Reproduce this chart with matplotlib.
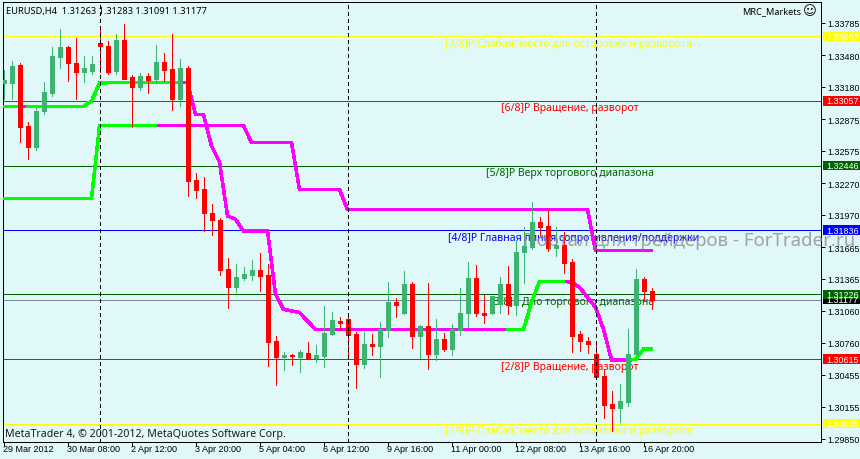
import matplotlib
matplotlib.use("Agg")
import matplotlib.pyplot as plt
from matplotlib.patches import Rectangle
from matplotlib.transforms import blended_transform_factory

# ---------- data ----------
opens = [1.33228,1.33225,1.33395,1.32818,1.32620,1.32960,1.33131,1.33471,1.33566,1.33414,1.33329,1.33339,1.33604,1.33575,1.33339,1.33632,1.33282,1.33187,1.33291,1.33263,1.33424,1.33358,1.33074,1.33367,1.32307,1.32222,1.31995,1.31929,1.31465,1.31295,1.31380,1.31408,1.31456,1.31408,1.30784,1.30632,
         1.30651,1.30632,1.30670,1.30623,1.30642,1.30850,1.30973,1.30992,1.30850,1.30566,1.30755,1.30736,1.30888,1.31153,1.31049,1.31323,1.30831,1.30926,1.30661,1.30803,1.30708,1.30888,1.31049,1.31380,1.31049,1.31049,1.31134,1.31323,1.31124,1.31626,1.31673,1.31910,1.31872,1.31664,1.31692,1.31531,
         1.30850,1.30784,1.30661,1.30453,1.30188,1.30150,1.30207,1.30661,1.31370,1.31263]
highs = [1.33351,1.33433,1.33414,1.32856,1.33004,1.33235,1.33566,1.33736,1.33575,1.33651,1.33481,1.33481,1.33746,1.33623,1.33689,1.33783,1.33301,1.33320,1.33320,1.33585,1.33509,1.33689,1.33452,1.33386,1.32373,1.32336,1.32080,1.31948,1.31569,1.31512,1.31484,1.31550,1.31616,1.31512,1.30831,1.30680,
         1.30661,1.30699,1.30774,1.30746,1.31115,1.31058,1.31011,1.31039,1.30869,1.30869,1.30850,1.30963,1.31342,1.31191,1.31446,1.31342,1.30934,1.31332,1.30992,1.30859,1.30945,1.31285,1.31531,1.31503,1.31219,1.31210,1.31389,1.31493,1.31739,1.31862,1.32099,1.31957,1.32023,1.31862,1.31815,1.31560,
         1.30878,1.30821,1.30755,1.30519,1.30310,1.30377,1.30897,1.31465,1.31389,1.31283]
lows = [1.33074,1.33074,1.32667,1.32506,1.32591,1.32932,1.33102,1.33367,1.33244,1.33074,1.33235,1.33310,1.33329,1.33310,1.33310,1.33263,1.32809,1.33159,1.33131,1.33225,1.33244,1.32970,1.33007,1.32156,1.32137,1.31825,1.31787,1.31408,1.31096,1.31247,1.31361,1.31361,1.31257,1.30547,1.30367,1.30509,
        1.30557,1.30490,1.30623,1.30585,1.30538,1.30841,1.30888,1.30632,1.30339,1.30528,1.30651,1.30443,1.30821,1.31011,1.31039,1.30717,1.30623,1.30519,1.30604,1.30689,1.30651,1.30841,1.30916,1.31020,1.30954,1.31039,1.31049,1.31039,1.31030,1.31332,1.31654,1.31787,1.31635,1.31591,1.31427,1.30680,
        1.30689,1.30670,1.30424,1.30055,1.29932,1.30017,1.30169,1.30661,1.31172,1.31091]
closes = [1.33254,1.33386,1.32809,1.32620,1.32960,1.33140,1.33481,1.33566,1.33414,1.33329,1.33367,1.33406,1.33575,1.33329,1.33632,1.33263,1.33187,1.33291,1.33254,1.33424,1.33348,1.33074,1.33367,1.32298,1.32213,1.31995,1.31929,1.31456,1.31295,1.31389,1.31418,1.31456,1.31399,1.30774,1.30632,1.30651,
          1.30642,1.30680,1.30623,1.30651,1.30859,1.30982,1.30954,1.30841,1.30566,1.30755,1.30736,1.30897,1.31153,1.31124,1.31323,1.30831,1.30926,1.30661,1.30803,1.30708,1.30897,1.31049,1.31380,1.31049,1.31030,1.31210,1.31323,1.31124,1.31626,1.31683,1.31910,1.31862,1.31664,1.31692,1.31522,1.30831,
          1.30784,1.30755,1.30443,1.30178,1.30150,1.30216,1.30661,1.31370,1.31257,1.31177]

band_a = [1.33005]*10 + [1.33007,1.33055,1.33225] + [1.33230]*11 + [1.32932,1.32927,1.32632,1.32478,1.31969,1.31938,
          1.31827,1.31827,1.31827,1.31827,1.31228,1.31087,1.31070,1.31055,1.30976] + [1.30894]*27 + [1.31153,1.31351,1.31351,1.31351,1.31351,1.31342,1.31295,1.31200,1.31105,1.30897,1.30607,1.30604,1.30604,1.30613,1.30708,1.30708]
band_b = [1.32132]*12 + [1.32823]*19 + [1.32664]*6 + [1.32219]*6 + [1.32030]*31 + [1.31642]*8
band_a_up = [(0,2),(3,22),(63,70),(78,81)]
band_b_up = [(0,19)]

levels = [1.33667,1.33057,1.32446,1.31836,1.31226,1.30615,1.30005]
level_colors = ['#FFFF00','#FF0000','#006400','#0000FF','#006400','#FF0000','#FFFF00']
level_names = ['[7/8]P Слабая, место для остановки и разворота','[6/8]P Вращение, разворот','[5/8]P Верх торгового диапазона',
               '[4/8]P Главная линия сопротивления/поддержки','[3/8]P Дно торгового диапазона','[2/8]P Вращение, разворот','[1/8]P Слабая, место для остановки и разворота']
level_label_x = [55.2,62.2,60.3,55.5,60.8,62.2,55.2]
last_price = 1.31177
period_marks = [12,43,74]

price_ticks = [1.33785,1.33480,1.33180,1.32875,1.32575,1.32270,1.31970,1.31665,1.31365,1.31060,1.30760,1.30455,1.30155,1.29850]
date_ticks = [0,8,16,24,32,40,48,56,64,72,80]
date_labels = ['29 Mar 2012','30 Mar 08:00','2 Apr 12:00','3 Apr 20:00','5 Apr 04:00','6 Apr 12:00','9 Apr 16:00','11 Apr 00:00','12 Apr 08:00','13 Apr 16:00','16 Apr 20:00']

# ---------- styling ----------
BG = '#E0F8F8'
UP = '#3CB371'
DOWN = '#FF0000'
LW1 = 0.72
LW3 = 1.8
plt.rcParams['font.family'] = ['Noto Sans', 'DejaVu Sans']
AXFONT = ['Liberation Sans', 'DejaVu Sans']
W, H = 860, 460
fig = plt.figure(figsize=(W/100, H/100), dpi=100, facecolor=BG)
ax = fig.add_axes([2.5/W, 1-442.5/H, 818/W, 440/H], facecolor=BG)
ax.set_xlim(-0.125, 102.125)
ax.set_ylim(1.29835, 1.33998)

for lv, c in zip(levels, level_colors):
    ax.axhline(lv, color=c, lw=LW1, antialiased=False, zorder=1)
ax.axhline(last_price, color='#778899', lw=LW1, antialiased=False, zorder=1)

xs = list(range(len(opens)))
for lv, c, t, lx in zip(levels, level_colors, level_names, level_label_x):
    ax.annotate(t, (lx, lv), xytext=(0, -7), textcoords='offset pixels',
                color=c, fontsize=7.55, va='center', ha='left', zorder=2)

ax.plot(xs, band_a, color='#FF00FF', lw=LW3, antialiased=False, zorder=3, solid_joinstyle='miter')
ax.plot(xs, band_b, color='#FF00FF', lw=LW3, antialiased=False, zorder=3, solid_joinstyle='miter')
for s, e in band_a_up:
    ax.plot(xs[s:e+1], band_a[s:e+1], color='#00FF00', lw=LW3, antialiased=False, zorder=3.1)
for s, e in band_b_up:
    ax.plot(xs[s:e+1], band_b[s:e+1], color='#00FF00', lw=LW3, antialiased=False, zorder=3.1)

colors = [UP if c >= o else DOWN for o, c in zip(opens, closes)]
ax.vlines(xs, lows, highs, colors=colors, lw=LW1, antialiased=False, zorder=4)
ax.bar(xs, [abs(c-o) for o, c in zip(opens, closes)], bottom=[min(o, c) for o, c in zip(opens, closes)],
       width=0.5, color=colors, edgecolor=colors, linewidth=LW1, antialiased=False, zorder=5)

for m in period_marks:
    ax.axvline(m, color='black', lw=LW1, ls=(0, (4, 4)), antialiased=False, zorder=6)

ax.text((855-2.5)/818, 1-(240.5-2.5)/440, 'Портал для трейдеров - ForTrader.ru', transform=ax.transAxes, color='#8c8585', alpha=0.75,
        fontsize=13.4, ha='right', va='center', zorder=7, clip_on=False)

ax.text(3/818, 1-9/440, 'EURUSD,H4  1.31263 1.31283 1.31091 1.31177', transform=ax.transAxes, color='black',
        fontsize=6.7, va='center', ha='left', zorder=8)
ax.text((801-2.5)/818, 1-9/440, 'MRC_Markets', transform=ax.transAxes, color='black', fontsize=6.6, va='center', ha='right', zorder=8)
ax.text((817-2.5)/818, 1-9/440, '☺', transform=ax.transAxes, color='black', fontsize=9.5, va='center', ha='right', zorder=8, family='DejaVu Sans')
ax.text(2.5/818, 1-(435-2.5)/440, 'MetaTrader 4, © 2001-2012, MetaQuotes Software Corp.', transform=ax.transAxes, color='#1a1a1a',
        fontsize=7.6, va='center', ha='left', zorder=8)

for s in ax.spines.values():
    s.set_color('black')
    s.set_linewidth(LW1)
    s.set_antialiased(False)

ax.set_yticks([p + 0.0001 for p in price_ticks], [f'{p:.5f}' for p in price_ticks], family=AXFONT)
ax.yaxis.tick_right()
ax.tick_params(axis='y', length=3, width=LW1, pad=2, labelsize=6.4, colors='black')
ax.set_xticks(date_ticks, ['']*len(date_ticks))
ax.tick_params(axis='x', length=3, width=LW1, labelsize=6.4)
tr = blended_transform_factory(ax.transData, ax.transAxes)
for t, lab in zip(date_ticks, date_labels):
    ax.text(t-0.12, -7.5/440, lab, transform=tr, fontsize=6.5, ha='left', va='center', clip_on=False, family=AXFONT)

# price tags right of the axis
tr2 = ax.get_yaxis_transform()
tags = [(last_price, 'black')] + list(zip(levels, level_colors))
for p, c in tags:
    ax.add_patch(Rectangle((1.003, p-0.00045), 0.047, 0.0009, transform=tr2, facecolor=c, edgecolor='none',
                           clip_on=False, zorder=9))
    ax.text(1.0065, p, f'{p:.5f}', transform=tr2, color='white', fontsize=6.4, va='center', ha='left', clip_on=False, zorder=10, family=AXFONT)

fig.savefig('out.png', dpi=100, facecolor=BG)
